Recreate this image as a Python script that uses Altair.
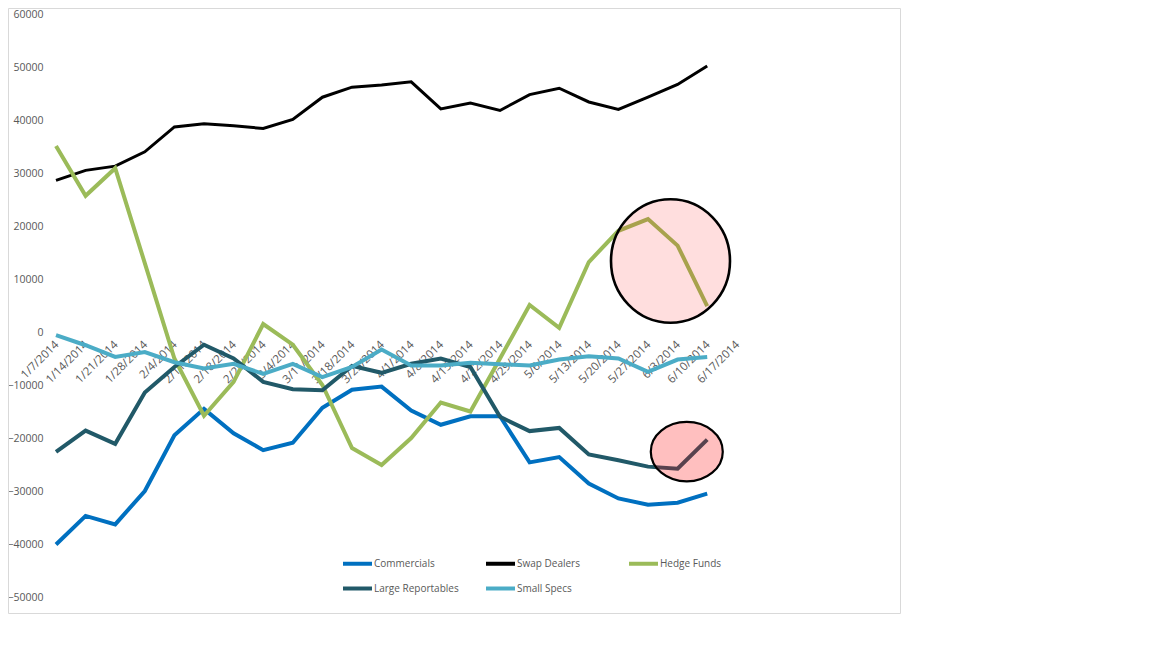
import altair as alt
import pandas as pd

dates = ["1/7/2014", "1/14/2014", "1/21/2014", "1/28/2014", "2/4/2014", "2/11/2014",
         "2/18/2014", "2/25/2014", "3/4/2014", "3/11/2014", "3/18/2014", "3/25/2014",
         "4/1/2014", "4/8/2014", "4/15/2014", "4/22/2014", "4/29/2014", "5/6/2014",
         "5/13/2014", "5/20/2014", "5/27/2014", "6/3/2014", "6/10/2014", "6/17/2014"]

series_names = ["Commercials", "Swap Dealers", "Hedge Funds", "Large Reportables", "Small Specs"]
series_colors = ["#0070C0", "#000000", "#9BBB59", "#215968", "#4BACC6"]

commercials = [-40100, -34700, -36300, -30000, -19500, -14500, -19100, -22300, -20900, -14300,
               -10900, -10300, -14800, -17500, -15900, -15900, -24600, -23600, -28600, -31400,
               -32600, -32200, -30500]
swap_dealers = [28600, 30500, 31300, 34000, 38700, 39300, 38900, 38400, 40100, 44300,
                46200, 46600, 47200, 42100, 43200, 41800, 44800, 46000, 43400, 42000,
                44300, 46700, 50200]
hedge_funds = [35100, 25700, 30900, 13000, -5000, -15800, -9400, 1500, -2400, -10000,
               -21900, -25100, -20000, -13300, -15000, -5000, 5100, 800, 13200, 19100,
               21300, 16300, 4900]
large_reportables = [-22600, -18600, -21100, -11400, -6600, -2400, -5000, -9400, -10800, -11000,
                     -6400, -7700, -6000, -5000, -6600, -16000, -18700, -18100, -23100, -24200,
                     -25400, -25800, -20300]
small_specs = [-600, -2500, -4700, -3800, -5700, -6900, -6000, -7900, -6000, -8500,
               -6600, -3300, -6300, -6300, -5800, -6100, -6300, -5200, -4600, -5000,
               -7500, -5200, -4700]

# highlight ellipses (centre position in data units)
ellipse_idx = [20.76, 21.31]
ellipse_val = [13400, -22580]

FONT = "Open Sans"
GREY = "#595959"

rows = []
for name, vals in zip(series_names, [commercials, swap_dealers, hedge_funds, large_reportables, small_specs]):
    for i, v in enumerate(vals):
        rows.append({"idx": i, "series": name, "value": v})
df = pd.DataFrame(rows)

x_scale = alt.Scale(domain=[-0.1014, 23.412], nice=False, zero=False)
y_scale = alt.Scale(domain=[-50000, 60000], nice=False)

x_enc = alt.X("idx:Q", scale=x_scale, axis=None)
y_enc = alt.Y(
    "value:Q",
    scale=y_scale,
    axis=alt.Axis(values=list(range(-50000, 60001, 10000)), format="d", title=None,
                  domain=False, ticks=False, gridColor="#D9D9D9", gridWidth=1,
                  labelPadding=10, labelFont=FONT, labelFontSize=10.5, labelColor=GREY),
)
color_enc = alt.Color(
    "series:N",
    scale=alt.Scale(domain=series_names, range=series_colors),
    legend=alt.Legend(title=None, orient="none", legendX=288, legendY=533, columns=3,
                      direction="horizontal",
                      symbolType="stroke", symbolSize=841, symbolStrokeWidth=4,
                      labelOffset=0, rowPadding=-10, columnPadding=19, gridAlign="all",
                      labelFont=FONT, labelFontSize=10, labelColor=GREY, padding=0),
)

# category labels along the zero line (Excel style axis crossing at 0)
labels_df = pd.DataFrame({"idx": list(range(len(dates))), "label": dates})
x_labels = alt.Chart(labels_df).mark_text(
    angle=315, align="right", baseline="top", yOffset=7, xOffset=-3,
    font=FONT, fontSize=11.5, color=GREY
).encode(x=alt.X("idx:Q", scale=x_scale, axis=None), y=alt.datum(0), text="label:N")

base = alt.Chart(df).encode(x=x_enc, y=y_enc, color=color_enc)

widths = {"Commercials": 4, "Swap Dealers": 3, "Hedge Funds": 4,
          "Large Reportables": 4, "Small Specs": 4}
line_layers = [
    base.transform_filter(alt.datum.series == name).mark_line(strokeWidth=widths[name])
    for name in series_names
]


def ellipse_path(rx, ry):
    k = 0.5523
    return (f"M 0 {-ry} C {k*rx} {-ry} {rx} {-k*ry} {rx} 0 "
            f"C {rx} {k*ry} {k*rx} {ry} 0 {ry} "
            f"C {-k*rx} {ry} {-rx} {k*ry} {-rx} 0 "
            f"C {-rx} {-k*ry} {-k*rx} {-ry} 0 {-ry} Z")


ell1 = alt.Chart(pd.DataFrame({"idx": [ellipse_idx[0]], "value": [ellipse_val[0]]})).mark_point(
    shape=ellipse_path(59.5 / 61.7, 1.0), size=(2 * 61.7) ** 2, filled=True, fill="#FF0000",
    fillOpacity=0.13, stroke="#000000", strokeOpacity=1, strokeWidth=2.6, opacity=1
).encode(x=alt.X("idx:Q", scale=x_scale, axis=None), y="value:Q")

ell2 = alt.Chart(pd.DataFrame({"idx": [ellipse_idx[1]], "value": [ellipse_val[1]]})).mark_point(
    shape=ellipse_path(1.0, 29.7 / 36.0), size=(2 * 36.0) ** 2, filled=True, fill="#FF0000",
    fillOpacity=0.25, stroke="#000000", strokeOpacity=1, strokeWidth=2.2, opacity=1
).encode(x=alt.X("idx:Q", scale=x_scale, axis=None), y="value:Q")

border = alt.Chart(pd.DataFrame({"k": [0]})).mark_rect(
    fillOpacity=0, stroke="#D9D9D9", strokeWidth=1
).encode(x=alt.value(-44.5), x2=alt.value(847.5), y=alt.value(-5.5), y2=alt.value(599.5))

chart = alt.layer(border, x_labels, *line_layers, ell1, ell2).properties(
    width=696, height=583,
    autosize=alt.AutoSizeParams(type="none"),
    padding={"left": 45, "top": 6, "right": 160, "bottom": 22},
    background="white",
).configure_view(strokeWidth=0)

chart.save("out.html", embed_options={"renderer": "svg", "actions": False})
